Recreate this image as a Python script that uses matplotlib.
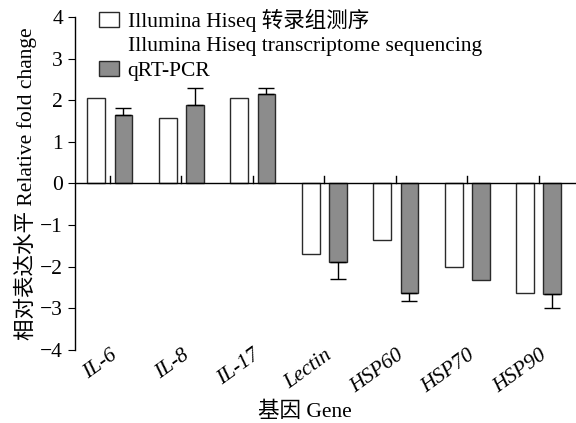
import matplotlib
matplotlib.use("Agg")
import matplotlib.pyplot as plt
from matplotlib.patches import Patch
import numpy as np

plt.rcParams['font.family'] = ['Liberation Serif', 'Noto Sans CJK SC']
plt.rcParams['axes.unicode_minus'] = True

genes = ["IL-6", "IL-8", "IL-17", "Lectin", "HSP60", "HSP70", "HSP90"]
seq_vals = [2.04, 1.56, 2.06, -1.69, -1.35, -2.00, -2.64]
qpcr_vals = [1.65, 1.89, 2.14, -1.88, -2.63, -2.33, -2.66]
qpcr_err = [0.17, 0.41, 0.16, 0.41, 0.20, 0.0, 0.34]

GRAY = "#8c8c8c"
EDGE = "#2a2a2a"
FS = 15.5

fig = plt.figure(figsize=(5.76, 4.23), dpi=100)
ax = fig.add_axes([0.130, 0.173, 0.870, 0.787])

x = np.arange(len(genes))
w = 0.25
ax.bar(x - 0.19, seq_vals, w, color="white", edgecolor=EDGE, linewidth=1.0, zorder=2)
ax.bar(x + 0.19, qpcr_vals, w, color=GRAY, edgecolor=EDGE, linewidth=1.0, zorder=2)

# one-sided error bars, pointing away from zero
for xi, v, e in zip(x, qpcr_vals, qpcr_err):
    if e <= 0:
        continue
    yerr = [[0], [e]] if v > 0 else [[e], [0]]
    ax.errorbar(xi + 0.19, v, yerr=yerr, fmt="none", ecolor="black",
                elinewidth=1.0, capsize=6, capthick=1.0, zorder=3)

ax.axhline(0, color="black", linewidth=1.0, zorder=3)
# small upward ticks at group centres on the zero line
for xi in x:
    ax.plot([xi, xi], [0, 0.17], color="black", linewidth=1.0, zorder=3)

ax.set_xlim(-0.49, 6.52)
ax.set_ylim(-4, 4)
ax.set_yticks(np.arange(-4, 5, 1))
ax.set_xticks(x)
ax.set_xticklabels(genes, rotation=36, ha="right", va="top", rotation_mode="anchor",
                   fontstyle="italic", fontsize=FS)
ax.tick_params(axis="x", length=0, pad=-3)
ax.tick_params(axis="y", direction="out", length=5, labelsize=FS)

for s in ["top", "right", "bottom"]:
    ax.spines[s].set_visible(False)
ax.spines["left"].set_linewidth(1.0)

ax.set_ylabel("相对表达水平 Relative fold change", fontsize=FS, labelpad=2)
ax.set_xlabel("基因 Gene", fontsize=FS)
ax.xaxis.set_label_coords(0.459, -0.155)

handles = [Patch(facecolor="white", edgecolor=EDGE),
           Patch(facecolor="none", edgecolor="none"),
           Patch(facecolor=GRAY, edgecolor=EDGE)]
labels = ["Illumina Hiseq 转录组测序",
          "Illumina Hiseq transcriptome sequencing",
          "qRT-PCR"]
ax.legend(handles, labels, loc="upper left", bbox_to_anchor=(0.03, 1.05),
          frameon=False, fontsize=FS, handlelength=0.95, handleheight=0.7,
          handletextpad=0.4, labelspacing=0.2, borderaxespad=0)

fig.savefig("out.png", dpi=100)
